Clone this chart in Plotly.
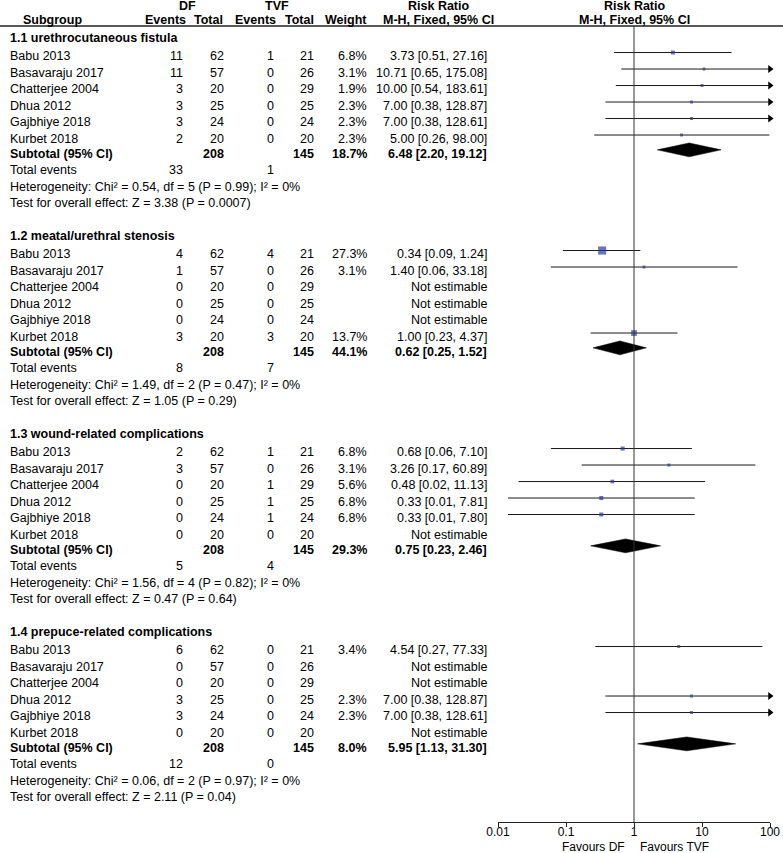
import math
import plotly.graph_objects as go

FONT = "Liberation Sans, Arial, sans-serif"

# ---------------- data ----------------
groups = ["1.1 urethrocutaneous fistula", "1.2 meatal/urethral stenosis",
          "1.3 wound-related complications", "1.4 prepuce-related complications"]
studies = ["Babu 2013", "Basavaraju 2017", "Chatterjee 2004", "Dhua 2012", "Gajbhiye 2018", "Kurbet 2018"]
df_total = [62, 57, 20, 25, 24, 20]
tvf_total = [21, 26, 29, 25, 24, 20]

df_events = [[11, 11, 3, 3, 3, 2],
             [4, 1, 0, 0, 0, 3],
             [2, 3, 0, 0, 0, 0],
             [6, 0, 0, 3, 3, 0]]
tvf_events = [[1, 0, 0, 0, 0, 0],
              [4, 0, 0, 0, 0, 3],
              [1, 0, 1, 1, 1, 0],
              [0, 0, 0, 0, 0, 0]]
weight = [[6.8, 3.1, 1.9, 2.3, 2.3, 2.3],
          [27.3, 3.1, None, None, None, 13.7],
          [6.8, 3.1, 5.6, 6.8, 6.8, None],
          [3.4, None, None, 2.3, 2.3, None]]
rr = [[3.73, 10.71, 10.00, 7.00, 7.00, 5.00],
      [0.34, 1.40, None, None, None, 1.00],
      [0.68, 3.26, 0.48, 0.33, 0.33, None],
      [4.54, None, None, 7.00, 7.00, None]]
ci_low = [[0.51, 0.65, 0.54, 0.38, 0.38, 0.26],
          [0.09, 0.06, None, None, None, 0.23],
          [0.06, 0.17, 0.02, 0.014, 0.014, None],
          [0.27, None, None, 0.38, 0.38, None]]
ci_high = [[27.16, 175.08, 183.61, 128.87, 128.61, 98.00],
           [1.24, 33.18, None, None, None, 4.37],
           [7.10, 60.89, 11.13, 7.81, 7.80, None],
           [77.33, None, None, 128.87, 128.61, None]]

sub_df_total = [208, 208, 208, 208]
sub_tvf_total = [145, 145, 145, 145]
sub_weight = [18.7, 44.1, 29.3, 8.0]
sub_rr = [6.48, 0.62, 0.75, 5.95]
sub_low = [2.20, 0.25, 0.23, 1.13]
sub_high = [19.12, 1.52, 2.46, 31.30]
tot_ev_df = [33, 8, 5, 12]
tot_ev_tvf = [1, 7, 4, 0]
het_chi2 = [0.54, 1.49, 1.56, 0.06]
het_df = [5, 2, 4, 2]
het_p = ["0.99", "0.47", "0.82", "0.97"]
het_i2 = [0, 0, 0, 0]
z_val = [3.38, 1.05, 0.47, 2.11]
z_p = ["0.0007", "0.29", "0.64", "0.04"]

axis_ticks = [0.01, 0.1, 1, 10, 100]
axis_ticktext = ["0.01", "0.1", "1", "10", "100"]

# ---------------- layout constants ----------------
W, H = 783, 853
ROW0_PX, ROW_PX = 38.0, 16.5
AXIS_PX = 822
COL_DF_EV, COL_DF_TOT, COL_TVF_EV, COL_TVF_TOT, COL_W, COL_RR = 184, 225, 275, 315, 368, 488
LEFT = 9
MARK_SHIFT = -0.22
XMAX = 100
FS = 12.5
FS_AX = 12

annotations = []


def txt(x, y, s, anchor="right", bold=False, xref="x", yref="y"):
    if bold:
        s = "<b>" + s + "</b>"
    annotations.append(dict(x=x, y=y, xref=xref, yref=yref, text=s, showarrow=False,
                            xanchor=anchor, yanchor="middle", borderpad=0,
                            font=dict(size=FS, family=FONT, color="black")))


# header
hdr_top = (6 - ROW0_PX) / ROW_PX
hdr_bot = (20 - ROW0_PX) / ROW_PX
txt(187, hdr_top, "DF", "center", True)
txt(277, hdr_top, "TVF", "center", True)
txt(438, hdr_top, "Risk Ratio", "center", True)
txt(52, hdr_bot, "Subgroup", "center", True)
txt(165, hdr_bot, "Events", "center", True)
txt(208, hdr_bot, "Total", "center", True)
txt(255, hdr_bot, "Events", "center", True)
txt(299, hdr_bot, "Total", "center", True)
txt(346, hdr_bot, "Weight", "center", True)
txt(438, hdr_bot, "M-H, Fixed, 95% CI", "center", True)
# annotations on a log axis take log10 positions
txt(math.log10(1), hdr_top, "Risk Ratio", "center", True, xref="x2")
txt(math.log10(1), hdr_bot, "M-H, Fixed, 95% CI", "center", True, xref="x2")

line_x, line_y = [], []
sq_x, sq_y, sq_s = [], [], []
arr_x, arr_y = [], []
diamonds = []

for g, gname in enumerate(groups):
    base = 12 * g
    txt(LEFT, base, gname, "left", True)
    for i, st in enumerate(studies):
        r = base + 1.1 + i
        txt(LEFT, r, st, "left")
        txt(COL_DF_EV, r, str(df_events[g][i]))
        txt(COL_DF_TOT, r, str(df_total[i]))
        txt(COL_TVF_EV, r, str(tvf_events[g][i]))
        txt(COL_TVF_TOT, r, str(tvf_total[i]))
        if rr[g][i] is None:
            txt(COL_RR, r, "Not estimable")
            continue
        txt(COL_W, r, f"{weight[g][i]:.1f}%")
        txt(COL_RR, r, f"{rr[g][i]:.2f} [{ci_low[g][i]:.2f}, {ci_high[g][i]:.2f}]")
        ym = r + MARK_SHIFT
        hi = min(ci_high[g][i], XMAX)
        line_x += [ci_low[g][i], hi, None]
        line_y += [ym, ym, None]
        sq_x.append(rr[g][i])
        sq_y.append(ym)
        sq_s.append(max(3.0, 1.55 * math.sqrt(weight[g][i])))
        if ci_high[g][i] > XMAX:
            arr_x.append(XMAX)
            arr_y.append(ym)
    rs = base + 7
    txt(LEFT, rs, "Subtotal (95% CI)", "left", True)
    txt(COL_DF_TOT, rs, str(sub_df_total[g]), bold=True)
    txt(COL_TVF_TOT, rs, str(sub_tvf_total[g]), bold=True)
    txt(COL_W, rs, f"{sub_weight[g]:.1f}%", bold=True)
    txt(COL_RR, rs, f"{sub_rr[g]:.2f} [{sub_low[g]:.2f}, {sub_high[g]:.2f}]", bold=True)
    diamonds.append((sub_low[g], sub_rr[g], sub_high[g], rs + MARK_SHIFT))
    txt(LEFT, base + 8, "Total events", "left")
    txt(COL_DF_EV, base + 8, str(tot_ev_df[g]))
    txt(COL_TVF_EV, base + 8, str(tot_ev_tvf[g]))
    txt(LEFT, base + 9, f"Heterogeneity: Chi² = {het_chi2[g]:.2f}, df = {het_df[g]} (P = {het_p[g]}); I² = {het_i2[g]}%", "left")
    txt(LEFT, base + 10, f"Test for overall effect: Z = {z_val[g]:.2f} (P = {z_p[g]})", "left")

fig = go.Figure()
fig.add_trace(go.Scatter(x=line_x, y=line_y, xaxis="x2", yaxis="y", mode="lines",
                         line=dict(color="#1a1a1a", width=1), hoverinfo="skip"))
fig.add_trace(go.Scatter(x=sq_x, y=sq_y, xaxis="x2", yaxis="y", mode="markers",
                         marker=dict(symbol="square", size=sq_s, color="#2b3a98", line=dict(width=0))))
fig.add_trace(go.Scatter(x=arr_x, y=arr_y, xaxis="x2", yaxis="y", mode="markers", cliponaxis=False,
                         marker=dict(symbol="triangle-right", size=7, color="black", line=dict(width=0))))
HALF = 0.42
for lo, est, hi, yy in diamonds:
    fig.add_trace(go.Scatter(x=[lo, est, hi, est, lo], y=[yy, yy - HALF, yy, yy + HALF, yy],
                             xaxis="x2", yaxis="y", mode="lines", fill="toself",
                             fillcolor="black", line=dict(color="black", width=0.5), hoverinfo="skip"))

# Favours labels
fav_y = 6.5 / H
annotations.append(dict(x=0, y=fav_y, xref="x2", yref="paper", text="Favours DF", showarrow=False,
                        xanchor="right", yanchor="middle", xshift=-8, borderpad=0,
                        font=dict(size=FS_AX, family=FONT, color="black")))
annotations.append(dict(x=0, y=fav_y, xref="x2", yref="paper", text="Favours TVF", showarrow=False,
                        xanchor="left", yanchor="middle", xshift=5, borderpad=0,
                        font=dict(size=FS_AX, family=FONT, color="black")))

y_bottom_frac = (H - AXIS_PX) / H
row_top = (0 - ROW0_PX) / ROW_PX
row_bot = (AXIS_PX - ROW0_PX) / ROW_PX
hdr_line = (H - 26) / H

fig.update_layout(
    width=W, height=H, margin=dict(l=0, r=0, t=0, b=0, autoexpand=False),
    paper_bgcolor="white", plot_bgcolor="white", showlegend=False,
    font=dict(family=FONT, size=FS, color="black"),
    xaxis=dict(domain=[0, 1], range=[0, W], visible=False, anchor="y", automargin=False),
    xaxis2=dict(domain=[498 / W, 770 / W], type="log", range=[-2, 2], anchor="y", automargin=False,
                showline=True, linecolor="#222", linewidth=1, ticks="outside", ticklen=4,
                ticklabelstandoff=-5,
                tickcolor="#222", tickvals=axis_ticks, ticktext=axis_ticktext,
                showgrid=False, zeroline=False, tickfont=dict(size=FS_AX, family=FONT, color="black")),
    yaxis=dict(domain=[y_bottom_frac, 1], range=[row_bot, row_top], visible=False, automargin=False),
    annotations=annotations,
    shapes=[
        dict(type="line", xref="paper", yref="paper", x0=0, x1=1, y0=hdr_line, y1=hdr_line,
             line=dict(color="#222", width=1.5)),
        dict(type="line", xref="x2", yref="paper", x0=1, x1=1, y0=y_bottom_frac, y1=hdr_line,
             line=dict(color="#333", width=1)),
    ],
)

fig.write_html("out.html", config={"displayModeBar": False},
               post_script="document.body.style.margin='0';document.body.style.overflow='hidden';")
